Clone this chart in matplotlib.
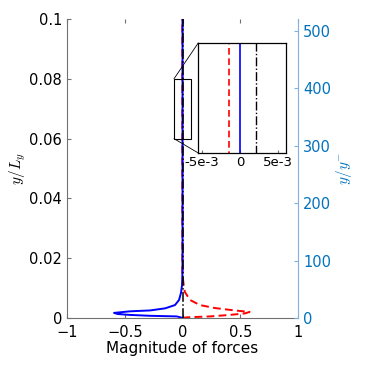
import matplotlib
matplotlib.use("Agg")
import matplotlib.pyplot as plt
from matplotlib.patches import Rectangle, ConnectionPatch

plt.rcParams["mathtext.fontset"] = "cm"

# ---- data (x = magnitude of force, y = y/Ly) ----
blue_y = [0, 0.0001, 0.0005, 0.0007, 0.0010, 0.0013, 0.00167, 0.0022, 0.0025,
          0.0032, 0.0043, 0.006, 0.0084, 0.011, 0.016, 0.03, 0.06, 0.1]
blue_x = [0, -0.01, -0.05, -0.28, -0.455, -0.56, -0.593, -0.455, -0.28,
          -0.15, -0.065, -0.03, -0.013, -0.004, 0.0, 0.0, 0.0, 0.0]

red_y = [0, 0.0002, 0.0005, 0.001, 0.0015, 0.002, 0.0025, 0.0033, 0.0043,
         0.006, 0.0087, 0.011, 0.015, 0.03, 0.06, 0.1]
red_x = [0, 0.04, 0.24, 0.41, 0.54, 0.58, 0.45, 0.28, 0.15,
         0.065, 0.02, 0.01, -0.0014, -0.0014, -0.0014, -0.0014]

black_y = [0, 0.01, 0.05, 0.1]
black_x = [0.0021, 0.0021, 0.0021, 0.0021]

xticks = [-1, -0.5, 0, 0.5, 1]
xticklabels = ["\u22121", "\u22120.5", "0", "0.5", "1"]
yticks = [0, 0.02, 0.04, 0.06, 0.08, 0.1]
yticklabels = ["0", "0.02", "0.04", "0.06", "0.08", "0.1"]
yplus_max = 521
yplus_ticks = [0, 100, 200, 300, 400, 500]
inset_xticks = [-0.005, 0, 0.005]
inset_xticklabels = ["-5e-3", "0", "5e-3"]
zoom_x = (-0.074, 0.074)
zoom_y = (0.06, 0.08)
inset_xlim = (-0.00545, 0.006)

spine_gray = "#707070"
mblue = "#0072BD"
fs = 10.5

fig = plt.figure(figsize=(3.74, 3.74), dpi=100)
ax = fig.add_axes([0.179, 0.150, 0.618, 0.799])

ax.plot(red_x, red_y, color="red", ls=(0, (4, 2.2)), lw=1.4, zorder=3)
ax.plot(blue_x, blue_y, color="blue", ls="-", lw=1.4, zorder=4)
ax.plot(black_x, black_y, color="black", ls="-.", lw=1.1, zorder=5)

ax.set_xlim(-1, 1)
ax.set_ylim(0, 0.1)
ax.set_xticks(xticks)
ax.set_xticklabels(xticklabels)
ax.set_yticks(yticks)
ax.set_yticklabels(yticklabels)
ax.tick_params(direction="in", length=3, labelsize=fs, colors=spine_gray,
               labelcolor="black", top=True, width=0.8)
ax.tick_params(axis="x", pad=5)
for s in ["top", "right"]:
    ax.spines[s].set_visible(False)
for s in ["left", "bottom"]:
    ax.spines[s].set_color(spine_gray)
    ax.spines[s].set_linewidth(0.8)
ax.set_xlabel("Magnitude of forces", fontsize=11, labelpad=1)
ax.set_ylabel("$y/L_y$", fontsize=11, labelpad=1)

# right axis in wall units
ax2 = ax.twinx()
ax2.set_ylim(0, yplus_max)
ax2.set_yticks(yplus_ticks)
ax2.tick_params(direction="in", length=3, labelsize=fs, colors="#7fb3db",
                labelcolor=mblue, width=0.8)
for s in ["top", "left", "bottom"]:
    ax2.spines[s].set_visible(False)
ax2.spines["right"].set_color("#7fb3db")
ax2.spines["right"].set_linewidth(0.8)
ax2.set_ylabel("$y/y^{-}$", color=mblue, fontsize=11, labelpad=2)

# zoom rectangle
rect = Rectangle((zoom_x[0], zoom_y[0]), zoom_x[1] - zoom_x[0], zoom_y[1] - zoom_y[0],
                 fill=False, ec="black", lw=0.8, zorder=6)
ax.add_patch(rect)

# inset
axi = fig.add_axes([0.530, 0.591, 0.235, 0.294])
axi.plot(red_x, red_y, color="red", ls=(0, (4, 2.2)), lw=1.2)
axi.plot(blue_x, blue_y, color="blue", ls="-", lw=1.2)
axi.plot(black_x, black_y, color="black", ls="-.", lw=1.0)
axi.set_xlim(*inset_xlim)
axi.set_ylim(*zoom_y)
axi.set_xticks(inset_xticks)
axi.set_xticklabels(inset_xticklabels)
axi.set_yticks([])
axi.tick_params(direction="in", length=2, labelsize=9.5, colors=spine_gray,
                labelcolor="black", pad=2)
for s in axi.spines.values():
    s.set_color("black")
    s.set_linewidth(0.9)

for (xa, ya, xb, yb) in [(zoom_x[0], zoom_y[1], 0, 1), (zoom_x[0], zoom_y[0], 0, 0)]:
    con = ConnectionPatch(xyA=(xa, ya), coordsA=ax.transData,
                          xyB=(xb, yb), coordsB=axi.transAxes,
                          color="black", lw=0.6)
    fig.add_artist(con)

fig.savefig("out.png", dpi=100)
